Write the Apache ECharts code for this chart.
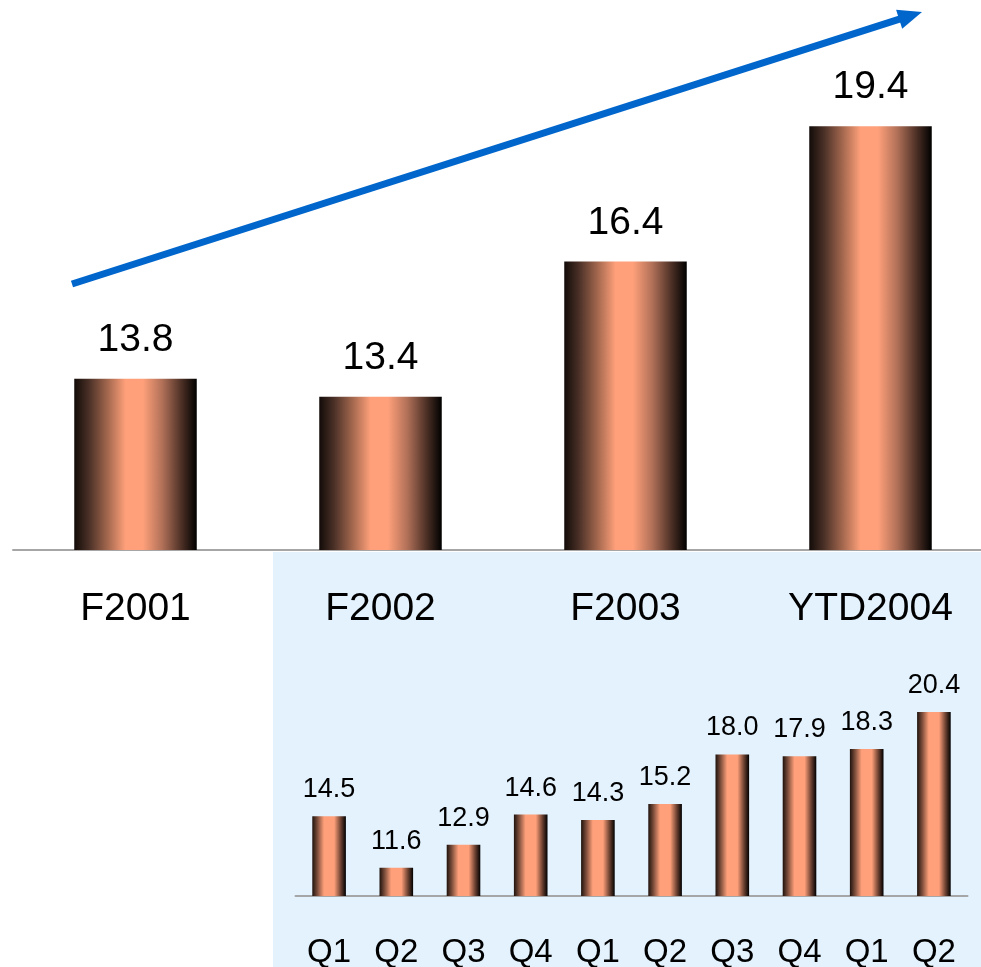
<!DOCTYPE html>
<html>
<head>
<meta charset="utf-8">
<script src="https://cdn.jsdelivr.net/npm/echarts@6/dist/echarts.min.js"></script>
<style>
    html, body { margin: 0; padding: 0; background: #fff; }
    #chart { width: 981px; height: 967px; }
</style>
</head>
<body>
<div id="chart"></div>
<script>
// yearly values
let years = ['F2001', 'F2002', 'F2003', 'YTD2004'];
let yearValues = [13.8, 13.4, 16.4, 19.4];

// quarterly values (F2002 Q1 .. YTD2004 Q2)
let quarters = ['Q1', 'Q2', 'Q3', 'Q4', 'Q1', 'Q2', 'Q3', 'Q4', 'Q1', 'Q2'];
let quarterValues = [14.5, 11.6, 12.9, 14.6, 14.3, 15.2, 18.0, 17.9, 18.3, 20.4];

let chartDom = document.getElementById('chart');
let myChart = echarts.init(chartDom);

let bigBarColor = new echarts.graphic.LinearGradient(0, 0, 1, 0, [
    {offset: 0, color: '#120b08'},
    {offset: 0.12, color: '#4a3027'},
    {offset: 0.28, color: '#a86a50'},
    {offset: 0.42, color: '#ffa07a'},
    {offset: 0.56, color: '#ffa07a'},
    {offset: 0.72, color: '#b07058'},
    {offset: 0.88, color: '#4a2e24'},
    {offset: 1, color: '#000000'}
]);
let smallBarColor = new echarts.graphic.LinearGradient(0, 0, 1, 0, [
    {offset: 0, color: '#1e120c'},
    {offset: 0.15, color: '#7a4c3a'},
    {offset: 0.35, color: '#ffa07a'},
    {offset: 0.65, color: '#ffa07a'},
    {offset: 0.85, color: '#6a4030'},
    {offset: 1, color: '#000000'}
]);

// trend arrow
let a0 = [72, 284], a1 = [922, 12];
let dx = a1[0] - a0[0], dy = a1[1] - a0[1];
let len = Math.sqrt(dx * dx + dy * dy);
let ux = dx / len, uy = dy / len;
let headLen = 24, headHalf = 10;
let bx = a1[0] - ux * headLen, by = a1[1] - uy * headLen;

let font = "'Liberation Sans', Arial, sans-serif";

let option = {
    animation: false,
    backgroundColor: '#ffffff',
    graphic: [
        {
            type: 'rect',
            z: -10,
            shape: {x: 273, y: 552, width: 708, height: 415},
            style: {fill: '#e3f2fd'}
        },
        {
            type: 'line',
            z: 10,
            shape: {x1: a0[0], y1: a0[1], x2: bx + ux * 2, y2: by + uy * 2},
            style: {stroke: '#0066cc', lineWidth: 7}
        },
        {
            type: 'polygon',
            z: 10,
            shape: {
                points: [
                    [a1[0], a1[1]],
                    [bx - uy * headHalf, by + ux * headHalf],
                    [bx + uy * headHalf, by - ux * headHalf]
                ]
            },
            style: {fill: '#0066cc'}
        }
    ],
    grid: [
        {left: 13, top: 9, width: 980, height: 541, outerBoundsMode: 'none', containLabel: false},
        {left: 295.5, top: 683.6, width: 672, height: 212.4, outerBoundsMode: 'none', containLabel: false}
    ],
    xAxis: [
        {
            type: 'category',
            gridIndex: 0,
            data: years,
            axisTick: {show: false},
            axisLine: {lineStyle: {color: '#a6a6a6', width: 2}},
            axisLabel: {
                color: '#000',
                fontSize: 39,
                fontFamily: font,
                margin: 40
            }
        },
        {
            type: 'category',
            gridIndex: 1,
            data: quarters,
            axisTick: {show: false},
            axisLine: {lineStyle: {color: '#a6a6a6', width: 2}},
            axisLabel: {
                color: '#000',
                fontSize: 33,
                fontFamily: font,
                margin: 40
            }
        }
    ],
    yAxis: [
        {type: 'value', gridIndex: 0, min: 10, max: 22, show: false},
        {type: 'value', gridIndex: 1, min: 10, max: 22, show: false}
    ],
    series: [
        {
            type: 'bar',
            xAxisIndex: 0,
            yAxisIndex: 0,
            barWidth: '50%',
            data: yearValues,
            itemStyle: {color: bigBarColor},
            label: {
                show: true,
                position: 'top',
                distance: 19,
                color: '#000',
                fontSize: 39,
                fontFamily: font,
                formatter: function (p) {
                    return p.value.toFixed(1);
                }
            }
        },
        {
            type: 'bar',
            xAxisIndex: 1,
            yAxisIndex: 1,
            barWidth: '50%',
            data: quarterValues,
            itemStyle: {color: smallBarColor},
            label: {
                show: true,
                position: 'top',
                distance: 13,
                color: '#000',
                fontSize: 27,
                fontFamily: font,
                formatter: function (p) {
                    return p.value.toFixed(1);
                }
            }
        }
    ]
};
option && myChart.setOption(option);
</script>
</body>
</html>
